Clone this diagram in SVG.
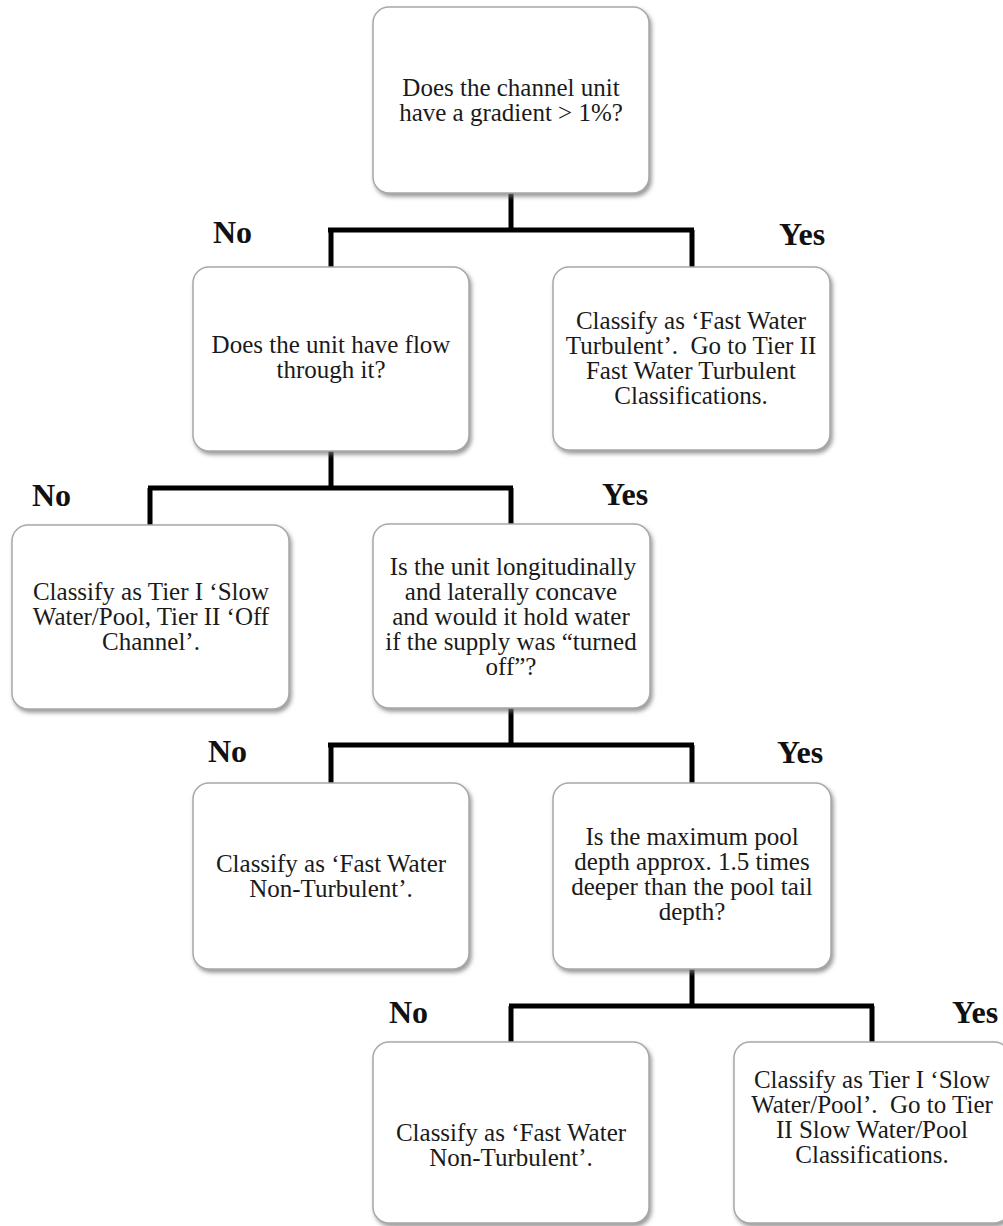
<svg xmlns="http://www.w3.org/2000/svg" width="1003" height="1226" viewBox="0 0 1003 1226">
<style>
.box{fill:#ffffff;stroke:#a8a8a8;stroke-width:1.5;filter:url(#sh)}
.t{font-family:"Liberation Serif","Times New Roman",serif;font-size:25px;fill:#1a1a1a;text-anchor:middle}
.lbl{font-family:"Liberation Serif","Times New Roman",serif;font-size:32px;font-weight:bold;fill:#111111}
.con{fill:none;stroke:#000000;stroke-width:5;stroke-linecap:butt;stroke-linejoin:miter}
</style>
<defs>
<filter id="sh" x="-10%" y="-10%" width="125%" height="125%">
<feDropShadow dx="2" dy="3" stdDeviation="2.2" flood-color="#777777" flood-opacity="0.75"/>
</filter>
</defs>
<rect width="1003" height="1226" fill="#ffffff"/>
<g id="connectors">
<path class="con" d="M511 193 V230 M328 230 H694 M331 230 V267 M692 230 V267"/>
<path class="con" d="M331 451 V488 M148 488 H513 M150 488 V525 M511 488 V524"/>
<path class="con" d="M511 708 V745 M328 745 H694 M331 745 V783 M692 745 V783"/>
<path class="con" d="M692 969 V1006 M509 1006 H874 M511 1006 V1042 M872 1006 V1042"/>
</g>
<g id="labels">
<text class="lbl" x="213" y="243">No</text>
<text class="lbl" x="779" y="245">Yes</text>
<text class="lbl" x="32" y="506">No</text>
<text class="lbl" x="602" y="505">Yes</text>
<text class="lbl" x="208" y="762">No</text>
<text class="lbl" x="777" y="763">Yes</text>
<text class="lbl" x="389" y="1023">No</text>
<text class="lbl" x="952" y="1023">Yes</text>
</g>
<g id="n1">
<rect class="box" x="373" y="7" width="276" height="186" rx="16"/>
<text class="t" x="511" y="96">Does the channel unit</text>
<text class="t" x="511" y="121">have a gradient &gt; 1%?</text>
</g>
<g id="n2">
<rect class="box" x="193" y="267" width="276" height="184" rx="16"/>
<text class="t" x="331" y="353">Does the unit have flow</text>
<text class="t" x="331" y="378">through it?</text>
</g>
<g id="n3">
<rect class="box" x="553" y="267" width="277" height="183" rx="16"/>
<text class="t" x="691" y="329">Classify as ‘Fast Water</text>
<text class="t" x="691" y="354">Turbulent’.&#160; Go to Tier II</text>
<text class="t" x="691" y="379">Fast Water Turbulent</text>
<text class="t" x="691" y="404">Classifications.</text>
</g>
<g id="n4">
<rect class="box" x="12" y="525" width="277" height="184" rx="16"/>
<text class="t" x="151" y="600">Classify as Tier I ‘Slow</text>
<text class="t" x="151" y="625">Water/Pool, Tier II ‘Off</text>
<text class="t" x="151" y="650">Channel’.</text>
</g>
<g id="n5">
<rect class="box" x="373" y="524" width="277" height="184" rx="16"/>
<text class="t" x="513" y="575">Is the unit longitudinally</text>
<text class="t" x="511" y="600">and laterally concave</text>
<text class="t" x="511" y="625">and would it hold water</text>
<text class="t" x="511" y="650">if the supply was “turned</text>
<text class="t" x="511" y="675">off”?</text>
</g>
<g id="n6">
<rect class="box" x="193" y="783" width="276" height="186" rx="16"/>
<text class="t" x="331" y="872">Classify as ‘Fast Water</text>
<text class="t" x="331" y="897">Non-Turbulent’.</text>
</g>
<g id="n7">
<rect class="box" x="553" y="783" width="278" height="186" rx="16"/>
<text class="t" x="692" y="845">Is the maximum pool</text>
<text class="t" x="692" y="870">depth approx. 1.5 times</text>
<text class="t" x="692" y="895">deeper than the pool tail</text>
<text class="t" x="692" y="920">depth?</text>
</g>
<g id="n8">
<rect class="box" x="373" y="1042" width="276" height="181" rx="16"/>
<text class="t" x="511" y="1141">Classify as ‘Fast Water</text>
<text class="t" x="511" y="1166">Non-Turbulent’.</text>
</g>
<g id="n9">
<rect class="box" x="734" y="1042" width="276" height="181" rx="16"/>
<text class="t" x="872" y="1088">Classify as Tier I ‘Slow</text>
<text class="t" x="872" y="1113">Water/Pool’.&#160; Go to Tier</text>
<text class="t" x="872" y="1138">II Slow Water/Pool</text>
<text class="t" x="872" y="1163">Classifications.</text>
</g>
</svg>
